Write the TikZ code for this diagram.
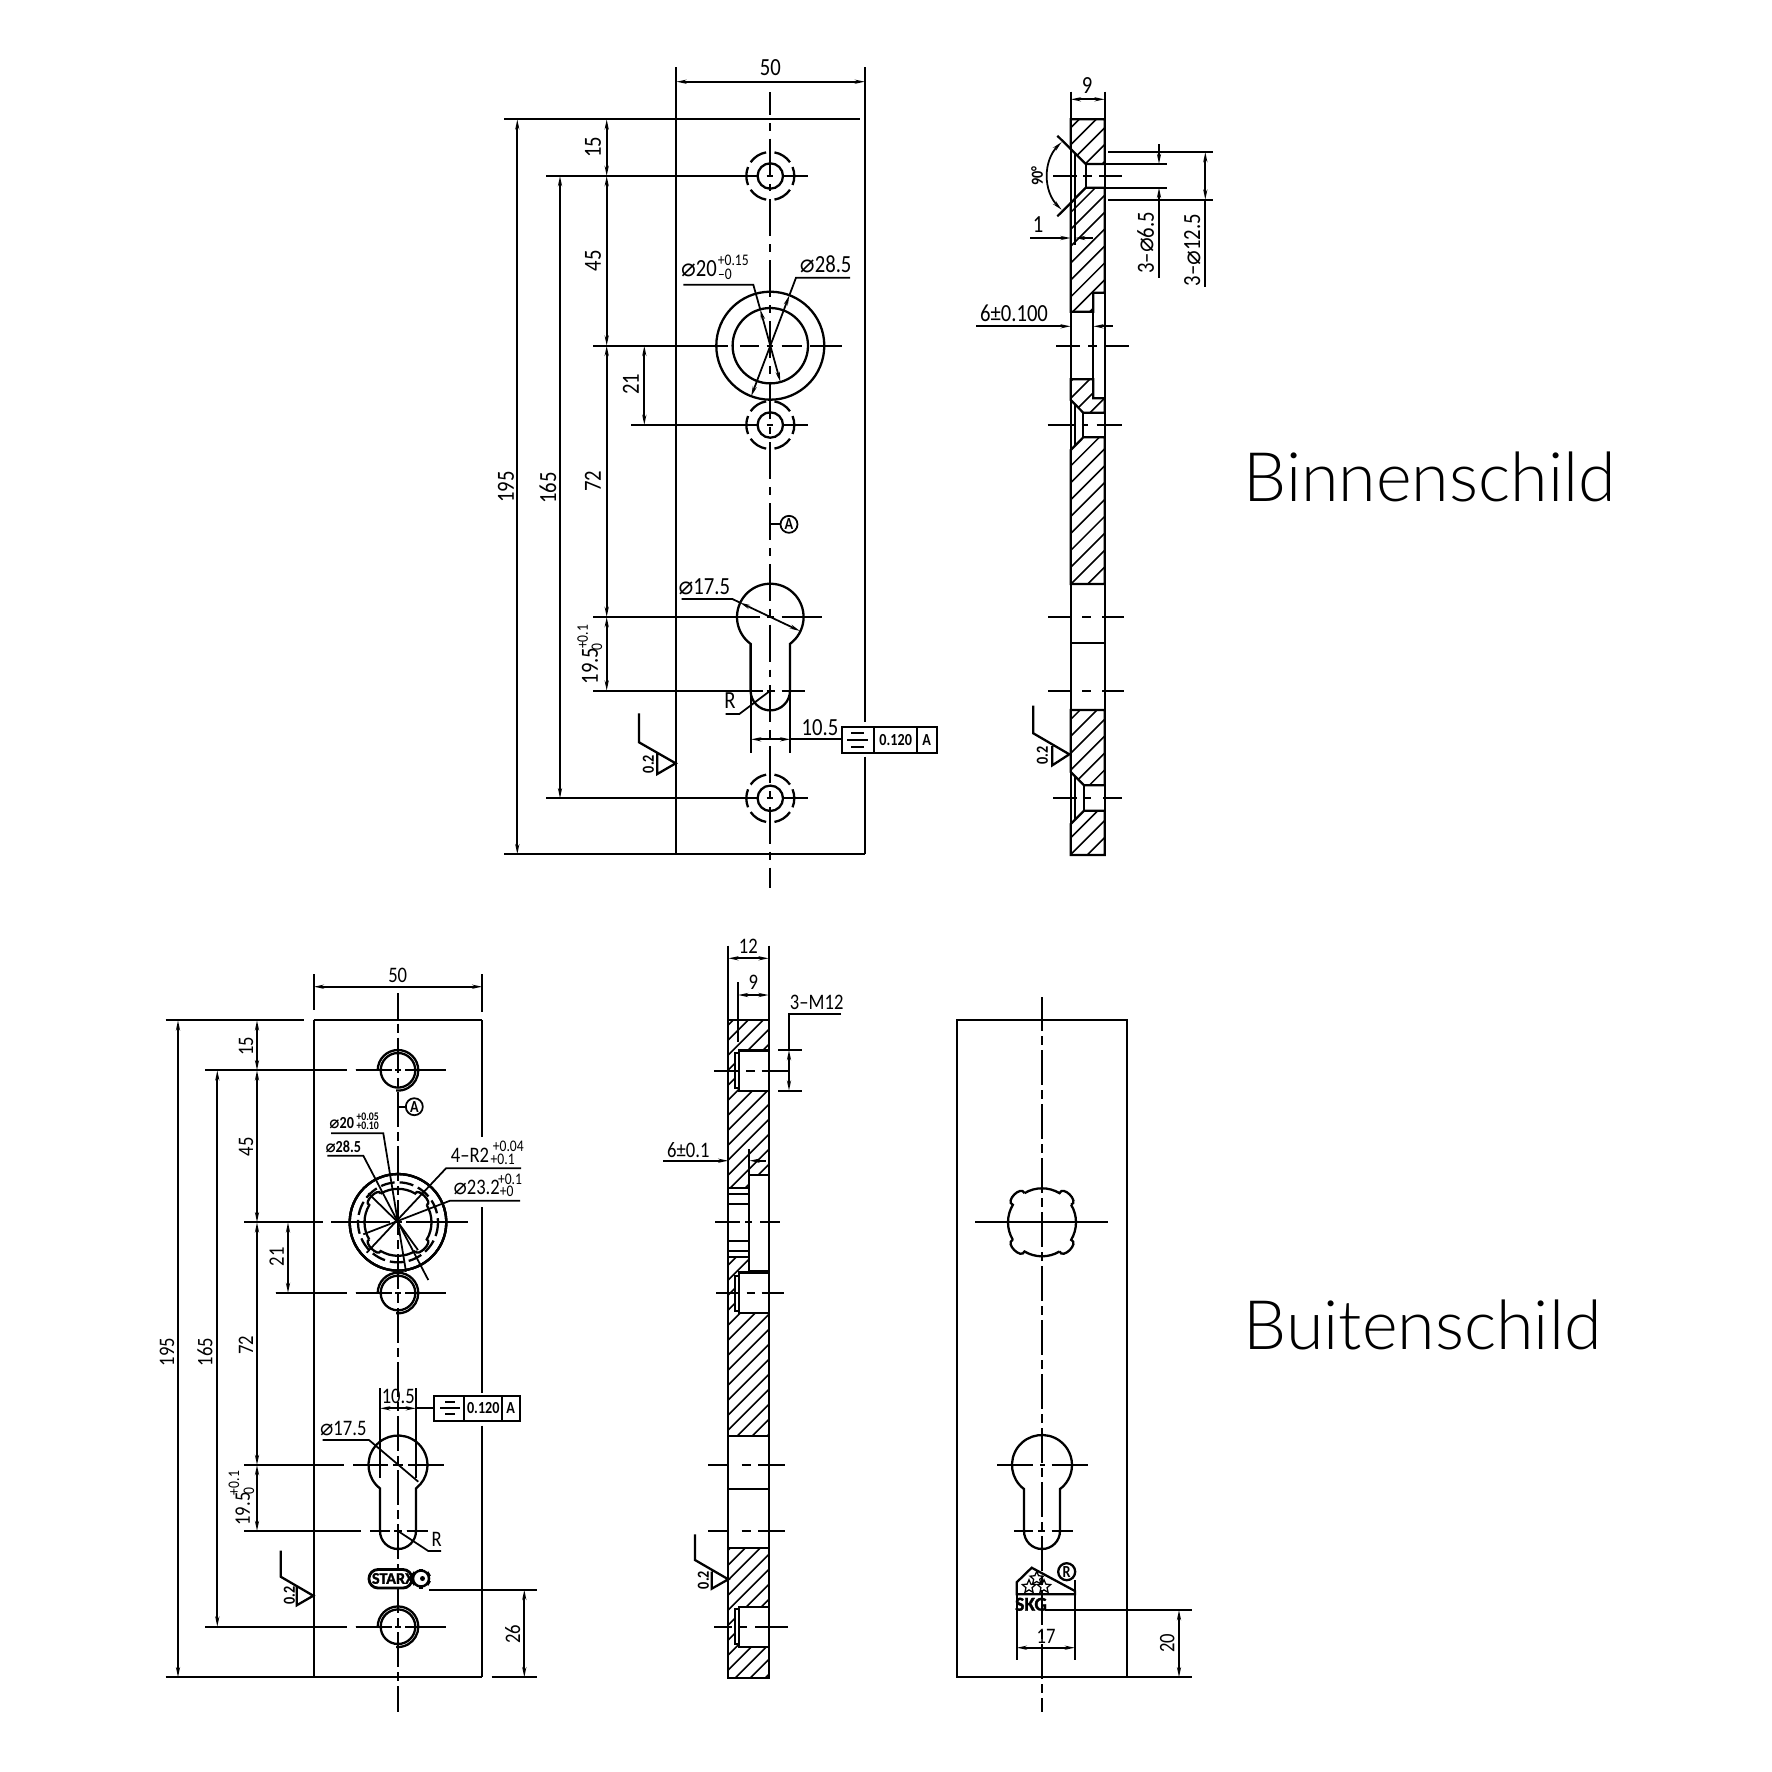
\documentclass[tikz,border=0pt]{standalone}
\usepackage{fontspec}
\setmainfont{Carlito}[FakeStretch=0.84]
\newfontfamily\phifont{DejaVu Sans}[Scale=1.0]
\newfontfamily\titlefont{Lato Light}
\newfontfamily\heavyfont{Carlito Bold}[FakeBold=1.5]
\usetikzlibrary{arrows.meta,shapes.geometric}
\newcommand{\dia}{{\phifont\char"2300}}
\newcommand{\dimfont}{\fontsize{7}{7}\selectfont}
\newcommand{\smallfont}{\fontsize{6.3}{6.5}\selectfont}
\newcommand{\tolfont}{\fontsize{4.6}{5}\selectfont}
\newcommand{\tagfont}{\fontsize{4.8}{5}\selectfont\bfseries}
\tikzset{>={Stealth[length=.1cm,width=.04cm]},
  obj/.style={line width=.65pt},
  dim/.style={line width=.5pt},
  hatch/.style={line width=.45pt},
  cla/.style={line width=.65pt,dash pattern=on .37cm off .08cm on .077cm off .08cm,dash phase=.14cm},
  clb/.style={line width=.65pt,dash pattern=on .35cm off .05cm on .09cm off .05cm},
  lbl/.style={font=\dimfont,inner sep=0pt},
  lblv/.style={lbl,rotate=90},
  lbs/.style={font=\smallfont,inner sep=0pt},
  lbsv/.style={lbs,rotate=90},
  tol/.style={font=\tolfont,inner sep=0pt},
  tolv/.style={tol,rotate=90},
  tagn/.style={font=\tagfont,inner sep=0pt},
  tagv/.style={tagn,rotate=90},
  tiny/.style={font=\fontsize{3.3}{3.5}\selectfont\bfseries,inner sep=0pt},
  datum/.style={circle,draw,line width=.5pt,minimum size=.17cm,inner sep=0pt,font=\tagfont},
  title/.style={font=\titlefont\fontsize{19.4}{20}\selectfont,inner sep=0pt,anchor=base west}}
% horizontal pieces of a centre line
\newcommand{\hbits}[2]{\foreach \p/\q in {#2} \draw[obj] (\p,#1) -- (\q,#1);}
% key hole: x, y, radius, half width, y of lower centre
\newcommand{\keyhole}[5]{%
  \pgfmathsetmacro{\kha}{asin(#4/#3)}
  \draw[obj] ({#1+#3*cos(90+\kha)},{#2+#3*sin(90+\kha)}) arc ({90+\kha}:{450-\kha}:#3)
    -- (#1+#4,#5) arc (0:180:#4) -- cycle;}
% ring of long dashes round the small holes
\newcommand{\dashring}[3]{%
  \foreach \s/\e in {-22/22,35/80,100/145,158/202,215/260,280/325}
    \draw[obj] ({#1+#3*cos(\s)},{#2+#3*sin(\s)}) arc (\s:\e:#3);}
% thread mark, open at the lower left
\newcommand{\threadring}[2]{%
  \draw[obj] (#1,#2) circle (17.3);
  \draw[obj] ({#1-20.3},#2) arc (180:455:20.3);}
% round hole with four lobes
\newcommand{\clover}[4]{%
  \begin{scope}[shift={(#1,#2)}]
  \foreach \a in {0,90,180,270}
    \draw[obj] (\a+59:#3) arc (\a+59:\a+121:#3)
      .. controls (\a+119:#3+#4) and (\a+151:#3+#4) .. (\a+149:#3);
  \end{scope}}
\begin{document}
\begin{tikzpicture}[x=.01cm,y=-.01cm]
\useasboundingbox (0,0) rectangle (1772,1772);

% Binnenschild, front
\draw[obj] (676.3,67.3) -- (676.3,854.3);
\draw[obj] (865,67.3) -- (865,721.7) (865,756.7) -- (865,854.3);
\draw[obj] (504,119.3) -- (860,119.3);
\draw[obj] (504,854.3) -- (865,854.3);
\draw[cla] (770.3,92) -- (770.3,888);
\foreach \y in {176,425,798.3} {
  \draw[obj] (770.3,\y) circle (12.7);
  \dashring{770.3}{\y}{24}
}
\hbits{176}{546/758,766.7/773,781.7/807.7}
\hbits{425}{631/758,766.7/773,781.7/807.7}
\hbits{798.3}{546/758,766.7/773,781.7/807.7}
\hbits{345.7}{593/728,740/759.3,766.7/773,781.7/801.7,810/842.3}
\hbits{617}{593/760,766.7/774,781.7/822.3}
\hbits{690.7}{593/763,766.7/775,781.7/805}
\draw[obj] (770.3,345.7) circle (54) circle (37.7);
\keyhole{770.3}{617}{33.3}{19.7}{690.7}
\draw[dim,<->] (676.3,81.7) -- (865,81.7);
\node[lbl] (a50) at (770.3,68) {50};
\draw[dim,<->] (517.3,119.3) -- (517.3,854.3);
\node[lblv] (a195) at (506,487) {195};
\draw[dim,<->] (560,176) -- (560,798.3);
\node[lblv] (a165) at (548,488) {165};
\draw[dim,<->] (606.7,119.3) -- (606.7,176);
\node[lblv] (a15) at (593,147) {15};
\draw[dim,<->] (606.7,176) -- (606.7,345.7);
\node[lblv] (a45) at (593,260.7) {45};
\draw[dim,<->] (606.7,345.7) -- (606.7,617);
\node[lblv] (a72) at (593,481) {72};
\draw[dim,<->] (606.7,617) -- (606.7,690.7);
\node[lblv] (a195a) at (590,666) {19.5};
\node[tolv] (a195b) at (582.7,637) {+0.1};
\node[tolv] (a195c) at (597,647) {0};
\draw[dim,<->] (644.3,345.7) -- (644.3,425);
\node[lblv] (a21) at (631,384.3) {21};
\draw[dim] (683.3,284.7) -- (753.3,284.7) -- (760.2,309.3);
\draw[dim,<->] (760.2,309.3) -- (780.4,382);
\node[lbl] (a20) at (699,269) {\dia20};
\node[tol] (a20b) at (733.3,260) {+0.15};
\node[tol] (a20c) at (725,274.3) {--0};
\draw[dim] (850,277.7) -- (796,277.7) -- (789.4,295.2);
\draw[dim,<->] (789.4,295.2) -- (751.2,396.2);
\node[lbl] (a285) at (825.7,264.3) {\dia28.5};
\draw[dim] (681.7,599) -- (732.3,599) -- (740,602.6);
\draw[dim,<->] (740,602.6) -- (800,631);
\node[lbl] (a175) at (704.3,586.7) {\dia17.5};
\draw[dim] (725.7,714) -- (739.3,714) -- (770.3,690.7);
\node[lbl] (aR) at (730,700.7) {R};
\draw[obj] (751,690) -- (751,753.3) (790.3,690) -- (790.3,753.3);
\draw[dim,<->] (751,739.3) -- (790.3,739.3);
\draw[dim] (790.3,739.3) -- (841.7,739.3);
\node[lbl] (a105) at (820,727.3) {10.5};
\draw[obj] (841.7,726.7) rectangle (936.7,753.3);
\draw[obj] (874.3,726.7) -- (874.3,753.3) (916.7,726.7) -- (916.7,753.3);
\draw[obj] (851,732.7) -- (864,732.7) (847,739.7) -- (868,739.7) (851,746.7) -- (864,746.7);
\node[tagn] (a120) at (895.7,740) {0.120};
\node[tagn] (aA) at (926.7,740) {A};
\draw[obj] (770.3,524.3) -- (780,524.3);
\node[datum] (aD) at (789,524.3) {A};
\draw[obj] (639,713.3) -- (639,742.3) -- (675.7,763.3) -- (657.3,774) -- (657.3,752.7);
\node[tagv] (a02) at (648.3,764) {0.2};

% Binnenschild, section
\path[save path=\binnencut]
  (1070.7,119.3) -- (1104.7,119.3) -- (1104.7,164) -- (1085.7,164) -- (1070.7,149) -- cycle
  (1070.7,203) -- (1085.7,187.7) -- (1104.7,187.7) -- (1104.7,292.7) -- (1093.3,292.7) -- (1093.3,311.7) -- (1070.7,311.7) -- cycle
  (1070.7,379.3) -- (1093.3,379.3) -- (1093.3,398.3) -- (1104.7,398.3) -- (1104.7,412.7) -- (1083.3,412.7) -- (1070.7,400) -- cycle
  (1070.7,450) -- (1083.3,437.3) -- (1104.7,437.3) -- (1104.7,584) -- (1070.7,584) -- cycle
  (1070.7,710) -- (1104.7,710) -- (1104.7,785.3) -- (1084,785.3) -- (1070.7,772) -- cycle
  (1070.7,824) -- (1084,810.7) -- (1104.7,810.7) -- (1104.7,855) -- (1070.7,855) -- cycle;
\begin{scope}
\clip[use path=\binnencut];
\foreach \k in {-22,...,24}
  \draw[hatch] (1070.3,{466.3+16.9*\k}) -- ++(40,-40);
\end{scope}
\draw[obj,use path=\binnencut];
\draw[obj] (1070.7,91.7) -- (1070.7,855) (1104.7,91.7) -- (1104.7,855);
\draw[obj] (1070.7,643.3) -- (1104.7,643.3);
\draw[obj] (1075,153.3) -- (1075,245) (1085.7,164) -- (1085.7,187.7);
\draw[obj] (1075,404.6) -- (1075,445.6) (1083.3,412.7) -- (1083.3,437.3);
\draw[obj] (1075,776.3) -- (1075,819.7) (1084,785.3) -- (1084,810.7);
\draw[obj] (1093.3,292.7) -- (1093.3,398.3);
\draw[obj] (1057.3,135.7) -- (1070.7,149) (1057.3,216.3) -- (1070.7,203);
\hbits{176}{1053/1077.3,1083.3/1091.7,1099.3/1122.3}
\hbits{345.7}{1056/1080,1088.3/1096.7,1105/1129}
\hbits{425}{1047.7/1075,1081.7/1088.3,1096.7/1122.3}
\hbits{616.7}{1048/1071,1082/1091,1102/1124}
\hbits{690.7}{1048/1071,1082/1091,1102/1124}
\hbits{798}{1053/1077,1084/1091,1103/1122}
\draw[dim,<->] (1070.7,99.3) -- (1104.7,99.3);
\node[lbl] (b9) at (1087,86) {9};
\draw[dim] (1085.7,164) -- (1166.7,164) (1085.7,187.7) -- (1166.7,187.7);
\draw[dim] (1108,152) -- (1213,152) (1108,199.7) -- (1213,199.7);
\draw[dim,->] (1159,144.3) -- (1159,164);
\draw[dim,->] (1159,277.7) -- (1159,187.7);
\node[lblv] (b65) at (1145.7,242.7) {3--\dia6.5};
\draw[dim,<->] (1205.3,152) -- (1205.3,199.7);
\draw[dim] (1205.3,199.7) -- (1205.3,287);
\node[lblv] (b125) at (1192.3,250) {3--\dia12.5};
\draw[dim,<->] (1061.7,142) arc (225:135:48);
\node[tagv] (b90) at (1037,176) {90°};
\draw[dim,->] (1030,238) -- (1070.7,238);
\draw[dim,->] (1093,238) -- (1075,238);
\node[lbl] (b1) at (1038,225) {1};
\draw[dim,->] (976,326.3) -- (1070.7,326.3);
\draw[dim,->] (1112.7,326.3) -- (1093.3,326.3);
\node[lbl] (b6) at (1014,313) {6±0.100};
\draw[obj] (1033.3,705.7) -- (1033.3,733.3) -- (1069.3,754.3) -- (1052.3,765.3) -- (1052.3,746);
\node[tagv] (b02) at (1042.3,755.7) {0.2};
\node[title] (binnen) at (1243,501) {Binnenschild};

% Buitenschild, front
\draw[obj] (313.7,974.3) -- (313.7,1010) (313.7,1020.3) -- (313.7,1677.3);
\draw[obj] (482.3,974.3) -- (482.3,1011.7) (482.3,1020.3) -- (482.3,1137.3) (482.3,1207.3) -- (482.3,1393) (482.3,1425.7) -- (482.3,1677.3);
\draw[obj] (165.7,1020.3) -- (304.3,1020.3) (313.7,1020.3) -- (482.3,1020.3);
\draw[obj] (165.7,1677.3) -- (482.3,1677.3) (491.7,1677.3) -- (537.3,1677.3);
\draw[clb,dash phase=.096cm] (398,993.3) -- (398,1711.7);
\foreach \y in {1070.3,1293,1626.7}
  \threadring{398}{\y}
\hbits{1070.3}{205/346.7,355.7/392.3,395/401,405/446}
\hbits{1293}{275.7/346.7,355.7/392.3,395/401,405/446}
\hbits{1626.7}{205/346.7,355.7/392.3,395/401,405/446}
\hbits{1222.3}{244.3/322.7,331/390,394/402,406/467.7}
\hbits{1465}{244.3/344,353.3/388.3,393/403,408.3/444.3}
\hbits{1531}{244.3/361,370/390,394/402,406.7/428.3}
\draw[obj] (398,1222.3) circle (48.3);
\draw[obj,dash pattern=on .14cm off .05cm] (398,1222.3) circle (40);
\clover{398}{1222.3}{33.5}{7}
\keyhole{398}{1465}{29.5}{18}{1531}
\draw[dim,<->] (313.7,986.7) -- (482.3,986.7);
\node[lbs] (c50) at (397.7,975) {50};
\draw[dim,<->] (178,1020.3) -- (178,1677.3);
\node[lbsv] (c195) at (167,1352) {195};
\draw[dim,<->] (217.3,1070.3) -- (217.3,1626.7);
\node[lbsv] (c165) at (205,1352) {165};
\draw[dim,<->] (257,1020.3) -- (257,1070.3);
\node[lbsv] (c15) at (246,1046) {15};
\draw[dim,<->] (257,1070.3) -- (257,1222.3);
\node[lbsv] (c45) at (246,1146.7) {45};
\draw[dim,<->] (257,1222.3) -- (257,1465);
\node[lbsv] (c72) at (246,1345) {72};
\draw[dim,<->] (257,1465) -- (257,1531);
\node[lbsv] (c195a) at (242.7,1509) {19.5};
\node[tolv] (c195b) at (234,1483) {+0.1};
\node[tolv] (c195c) at (249,1491) {0};
\draw[dim,<->] (288,1222.3) -- (288,1293);
\node[lbsv] (c21) at (276.7,1256.7) {21};
\draw[dim] (331,1133.3) -- (383.3,1133.3) -- (406,1271.7);
\node[tagn] (c20) at (341.7,1122.7) {\dia20};
\node[tiny] (c20b) at (367.7,1116.7) {+0.05};
\node[tiny] (c20c) at (367.7,1125.7) {+0.10};
\draw[dim] (327.3,1155.7) -- (363.3,1155.7) -- (428.3,1280);
\node[tagn] (c285) at (343.3,1146.7) {\dia28.5};
\draw[dim] (521,1168.3) -- (446,1168.3) -- (366.7,1252.7);
\node[lbs] (c4r) at (470,1155) {4--R2};
\node[tol] (c4rb) at (508.3,1146.7) {+0.04};
\node[tol] (c4rc) at (502.7,1159.3) {+0.1};
\draw[dim] (520,1200.7) -- (450,1200.7) -- (363.3,1234.3);
\node[lbs] (c232) at (476.7,1187.3) {\dia23.2};
\node[tol] (c232b) at (510,1179.3) {+0.1};
\node[tol] (c232c) at (506.7,1191.7) {+0};
\draw[dim] (368.3,1193.3) -- (398,1222.3) -- (418,1250);
\draw[obj] (398,1106.7) -- (406.7,1106.7);
\node[datum] (cD) at (414.3,1106.7) {A};
\draw[obj] (380,1388.3) -- (380,1478) (416,1388.3) -- (416,1478);
\draw[dim,<->] (380,1408.3) -- (416,1408.3);
\draw[dim] (416,1408.3) -- (434.3,1408.3);
\node[lbs] (c105) at (398.3,1396.7) {10.5};
\draw[obj] (434.3,1396) rectangle (520,1420.7);
\draw[obj] (464.3,1396) -- (464.3,1420.7) (501.7,1396) -- (501.7,1420.7);
\draw[obj] (445,1401.7) -- (455,1401.7) (440,1408.3) -- (460,1408.3) (445,1414) -- (455,1414);
\node[tagn] (c120) at (483.3,1408.3) {0.120};
\node[tagn] (cA) at (510.7,1408.3) {A};
\draw[dim] (322.7,1440) -- (369,1440) -- (418.3,1481.7);
\node[lbs] (c175) at (343.3,1428.3) {\dia17.5};
\draw[dim] (398,1531) -- (428.3,1551) -- (441,1551);
\node[lbs] (cR) at (436.7,1539) {R};
\draw[obj] (280.7,1550.7) -- (280.7,1576.7) -- (313.3,1595.7) -- (296.7,1605.3) -- (296.7,1585.7);
\node[tagv] (c02) at (289.3,1595.7) {0.2};
% STARX mark
\draw[line width=.8pt,rounded corners=.09cm,fill=white] (369,1569.5) rectangle (412,1588);
\begin{scope}[shift={(421,1578.5)}]
\draw[line width=.7pt,fill=white] (0,0) circle (8);
\foreach \a in {30,90,150,210,270,330}
  \draw[line width=1.4pt] (\a:7.5) -- (\a:10);
\fill (1.5,0) circle (2.5);
\end{scope}
\node[font=\heavyfont\fontsize{4.6}{5}\selectfont,inner sep=0pt] (cstarx) at (393,1578.5) {STARX};
\draw[dim] (429.3,1589.7) -- (537.3,1589.7);
\draw[dim,<->] (524.3,1589.7) -- (524.3,1677.3);
\node[lbsv] (c26) at (512.7,1634) {26};

% Buitenschild, section
\path[save path=\buitencut]
  (728.3,1020) -- (768.7,1020) -- (768.7,1050.5) -- (738.7,1050.5) -- (738.7,1053.2) -- (735.3,1053.2) -- (735.3,1088.2) -- (738.7,1088.2) -- (738.7,1090.7) -- (768.7,1090.7) -- (768.7,1175) -- (749.3,1175) -- (749.3,1188.3) -- (728.3,1188.3) -- cycle
  (728.3,1256.7) -- (749.3,1256.7) -- (749.3,1272.6) -- (738.7,1272.6) -- (738.7,1275.8) -- (735.3,1275.8) -- (735.3,1310.8) -- (738.7,1310.8) -- (738.7,1313.3) -- (768.7,1313.3) -- (768.7,1435.7) -- (728.3,1435.7) -- cycle
  (728.3,1548.3) -- (768.7,1548.3) -- (768.7,1606.7) -- (738.7,1606.7) -- (738.7,1609.3) -- (735.3,1609.3) -- (735.3,1644) -- (738.7,1644) -- (738.7,1646.7) -- (768.7,1646.7) -- (768.7,1677.7) -- (728.3,1677.7) -- cycle;
\begin{scope}
\clip[use path=\buitencut];
\foreach \k in {-24,...,24}
  \draw[hatch] (728.3,{1355+15*\k}) -- ++(41,-41);
\end{scope}
\draw[obj,use path=\buitencut];
\draw[obj] (728.3,945.7) -- (728.3,1677.7) (768.7,945.7) -- (768.7,1677.7);
\draw[obj] (738,982.3) -- (738,1041.7);
\draw[obj] (749.3,1149) -- (749.3,1270.7) -- (768.7,1270.7);
\foreach \y in {1194,1204,1240.7,1250.7}
  \draw[obj] (728.3,\y) -- (749.3,\y);
\draw[obj] (728.3,1489) -- (768.7,1489);
\foreach \y in {1070.7,1293.3,1626.7}
  \draw[obj] (768.7,\y-20) -- (738.7,\y-20) -- (738.7,\y+20) -- (768.7,\y+20);
\hbits{1070.7}{714.3/740,746/755,761.7/788.3}
\hbits{1222.3}{715/740,745/751.7,760/780}
\hbits{1293.3}{716/740,746.7/755,761.7/784}
\hbits{1465.3}{708.3/729,741.7/750.7,758.3/785}
\hbits{1531}{708.3/729,741.7/750.7,758.3/785}
\hbits{1626.7}{714.3/732.3,740/746.7,755/787.7}
\draw[dim,<->] (728.3,958.3) -- (768.7,958.3);
\node[lbs] (d12) at (748.3,946.7) {12};
\draw[dim,<->] (738,995) -- (768.7,995);
\node[lbs] (d9) at (753.3,982.7) {9};
\draw[dim] (841,1014.3) -- (789,1014.3) -- (789,1050);
\draw[dim,<->] (789,1050) -- (789,1090.7);
\draw[obj] (778.3,1050) -- (801.7,1050) (778.3,1090.7) -- (801.7,1090.7);
\node[lbs] (dM) at (816.7,1002.7) {3--M12};
\draw[dim,->] (663.3,1160.7) -- (728.3,1160.7);
\draw[dim,->] (765.7,1160.7) -- (749.3,1160.7);
\node[lbs] (d6) at (688.3,1150) {6±0.1};
\draw[obj] (695,1534.3) -- (695,1560) -- (728.3,1579.3) -- (711.7,1588.7) -- (711.7,1571.7);
\node[tagv] (d02) at (703.3,1580) {0.2};

% Buitenschild, back
\draw[obj] (957.3,1020.3) rectangle (1126.7,1677.3);
\draw[clb,dash phase=.01cm] (1042,997) -- (1042,1711.7);
\clover{1042}{1222.3}{34}{9}
\draw[obj] (975,1222.3) -- (1108.3,1222.3);
\keyhole{1042}{1465}{30}{18}{1531}
\hbits{1465}{997.3/1033.3,1040/1045,1051.7/1088.3}
\hbits{1531}{1014.3/1033.3,1038.3/1045,1051.7/1073.3}
% SKG mark
\draw[obj] (1016.7,1594.3) -- (1016.7,1582.3) -- (1031.7,1567.7) -- (1075,1591) -- (1075,1594.3) -- cycle;
\foreach \x/\y [count=\i] in {1029/1586.7,1036.7/1578.3,1044/1586.7}
  \node[star,star points=5,star point ratio=2.2,draw,line width=.35pt,minimum size=.14cm,inner sep=0pt] (estar\i) at (\x,\y) {};
\node[circle,draw,line width=.65pt,minimum size=.17cm,inner sep=0pt,font=\tagfont] (eR) at (1066.7,1571.7) {R};
\node[font=\heavyfont\fontsize{5.6}{6}\selectfont,inner sep=0pt] (eskg) at (1031,1604.3) {SKG};
\draw[obj] (1016.7,1594.3) -- (1016.7,1660) (1075,1580) -- (1075,1660);
\draw[dim,<->] (1016.7,1647.7) -- (1075,1647.7);
\node[lbs] (e17) at (1046,1636) {17};
\draw[dim] (1045,1610) -- (1191.7,1610) (1126.7,1677.3) -- (1191.7,1677.3);
\draw[dim,<->] (1179,1610) -- (1179,1677.3);
\node[lbsv] (e20) at (1167.3,1643.3) {20};
\node[title] (buiten) at (1243,1349) {Buitenschild};
\end{tikzpicture}
\end{document}
